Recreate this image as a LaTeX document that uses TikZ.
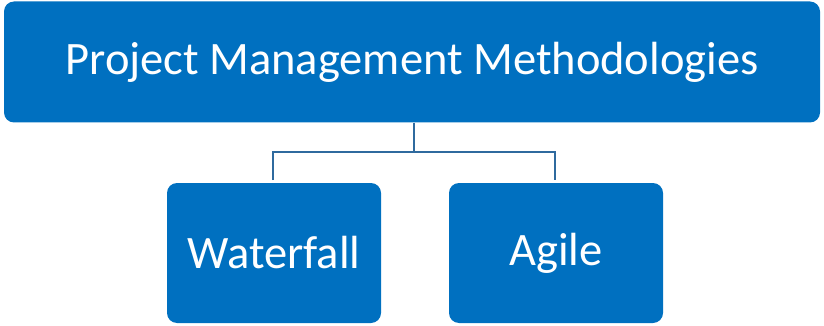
\documentclass[tikz,border=0pt]{standalone}
\usepackage{fontspec}
\setmainfont{Carlito}
\definecolor{boxblue}{HTML}{0070C0}
\definecolor{linkblue}{HTML}{2F6A9E}
\begin{document}
\begin{tikzpicture}[x=1pt,y=-1pt,
  block/.style={fill=boxblue, rounded corners=10pt, text=white, inner sep=0pt,
    font=\fontsize{46.5}{56}\selectfont},
  link/.style={draw=linkblue, line width=2pt}]
\useasboundingbox (0,0) rectangle (824,326);
\node[block, minimum width=816pt, minimum height=121pt] (top) at (412,62) {Project Management Methodologies};
\node[block, minimum width=214pt, minimum height=140pt] (wf) at (274,253) {Waterfall};
\node[block, minimum width=214pt, minimum height=140pt] (ag) at (556,253) {Agile};
\coordinate (mid) at (414,152);
\draw[link] (top.south -| mid) -- (mid);
\draw[link] (273,180) |- (mid) -| (555,180);
\end{tikzpicture}
\end{document}
